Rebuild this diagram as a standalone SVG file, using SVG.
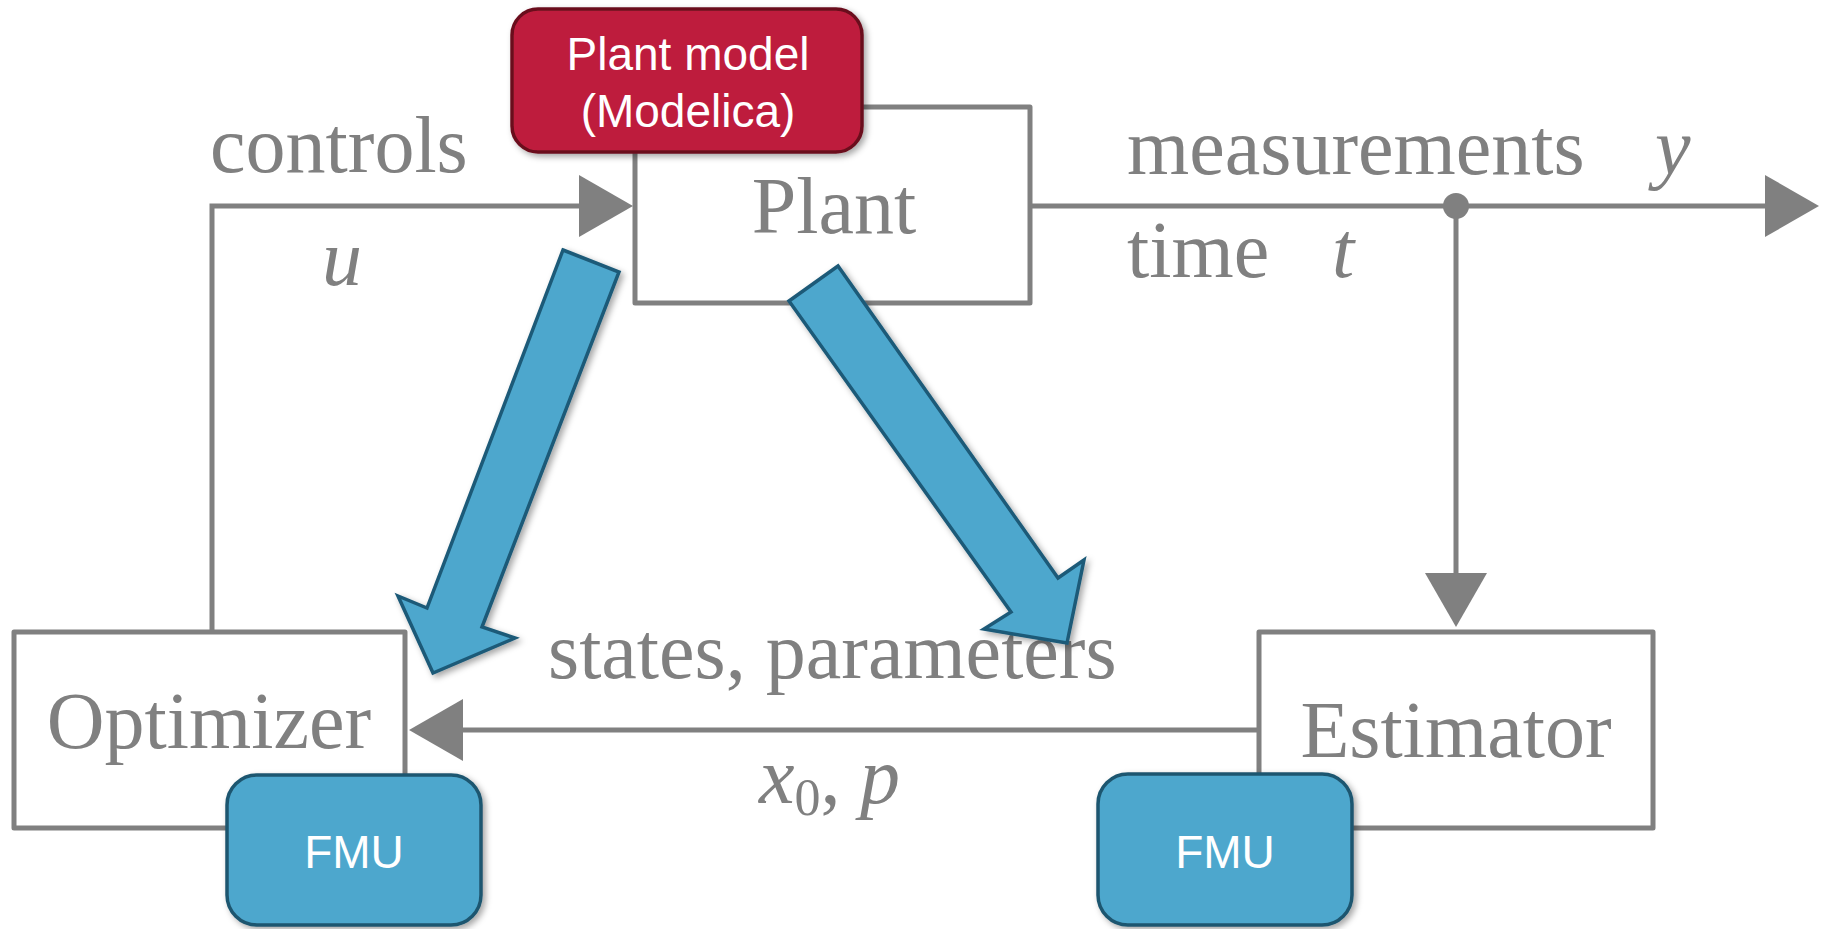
<svg xmlns="http://www.w3.org/2000/svg" width="1825" height="929" viewBox="0 0 1825 929">
  <defs>
    <style>
      .box { fill: #ffffff; stroke: #808080; stroke-width: 5; stroke-linejoin: round; }
      .wire { fill: none; stroke: #808080; stroke-width: 5; }
      .lbl { font-family: "Liberation Serif", "Times New Roman", serif; font-size: 80px; fill: #808080; }
      .math { font-style: italic; }
      .tag { font-family: "Liberation Sans", Arial, sans-serif; font-size: 46px; fill: #ffffff; text-anchor: middle; }
      .fmu { fill: #4ea7cd; stroke: #1f566f; stroke-width: 3.5; }
      .model { fill: #be1e3c; stroke: #6b0f1f; stroke-width: 3.5; }
      .flow { fill: #4ea7cd; stroke: #1d5a78; stroke-width: 3.5; stroke-linejoin: miter; }
    </style>
    <marker id="head" viewBox="0 0 54 62" refX="34" refY="31" markerWidth="54" markerHeight="62" markerUnits="userSpaceOnUse" orient="auto">
      <path d="M0,0 L54,31 L0,62 Z" fill="#808080"/>
    </marker>
    <filter id="shadow" x="-20%" y="-20%" width="140%" height="140%">
      <feDropShadow dx="3" dy="3" stdDeviation="3" flood-color="#000000" flood-opacity="0.35"/>
    </filter>
  </defs>

  <rect width="1825" height="929" fill="#ffffff"/>

  <!-- signal lines -->
  <g id="connectors">
    <path class="wire" d="M212,632 V206 H613" marker-end="url(#head)"/>
    <path class="wire" d="M1030,206 H1799" marker-end="url(#head)"/>
    <path class="wire" d="M1456,206 V607" marker-end="url(#head)"/>
    <path class="wire" d="M1259,730 H429" marker-end="url(#head)"/>
    <circle cx="1456" cy="206" r="13" fill="#808080"/>
  </g>

  <!-- signal labels -->
  <g id="labels">
    <text class="lbl" x="210" y="172">controls</text>
    <text class="lbl math" x="322" y="285">u</text>
    <text class="lbl" x="1127" y="174">measurements</text>
    <text class="lbl math" x="1655" y="174">y</text>
    <text class="lbl" x="1127" y="277">time</text>
    <text class="lbl math" x="1332" y="277">t</text>
    <text class="lbl" x="548" y="678">states, parameters</text>
    <text class="lbl" x="759" y="803"><tspan class="math">x</tspan><tspan font-size="52" dy="12">0</tspan><tspan dy="-12">,</tspan><tspan class="math" x="860">p</tspan></text>
  </g>

  <g id="plant">
    <rect class="box" x="635" y="107" width="395" height="196"/>
    <text class="lbl" x="834" y="233" text-anchor="middle">Plant</text>
  </g>

  <g id="optimizer">
    <rect class="box" x="14" y="632" width="391" height="196"/>
    <text class="lbl" x="209" y="748" text-anchor="middle">Optimizer</text>
  </g>

  <g id="estimator">
    <rect class="box" x="1259" y="632" width="394" height="196"/>
    <text class="lbl" x="1456" y="757" text-anchor="middle">Estimator</text>
  </g>

  <g id="plant-model">
    <rect class="model" x="512" y="9" width="350" height="143" rx="26" filter="url(#shadow)"/>
    <text class="tag" x="688" y="70">Plant model</text>
    <text class="tag" x="688" y="127">(Modelica)</text>
  </g>

  <g id="flow-to-optimizer">
    <path class="flow" filter="url(#shadow)" d="M563,250 L619,272 L482,627 L515,638 L433,673 L398,596 L427,608 Z"/>
  </g>

  <g id="flow-to-estimator">
    <path class="flow" filter="url(#shadow)" d="M789,301 L838,266 L1058,578 L1084,560 L1067,643 L984,629 L1011,612 Z"/>
  </g>

  <g id="fmu-optimizer">
    <rect class="fmu" x="227" y="775" width="254" height="150" rx="30" filter="url(#shadow)"/>
    <text class="tag" x="354" y="868">FMU</text>
  </g>

  <g id="fmu-estimator">
    <rect class="fmu" x="1098" y="774" width="254" height="151" rx="30" filter="url(#shadow)"/>
    <text class="tag" x="1225" y="868">FMU</text>
  </g>
</svg>
